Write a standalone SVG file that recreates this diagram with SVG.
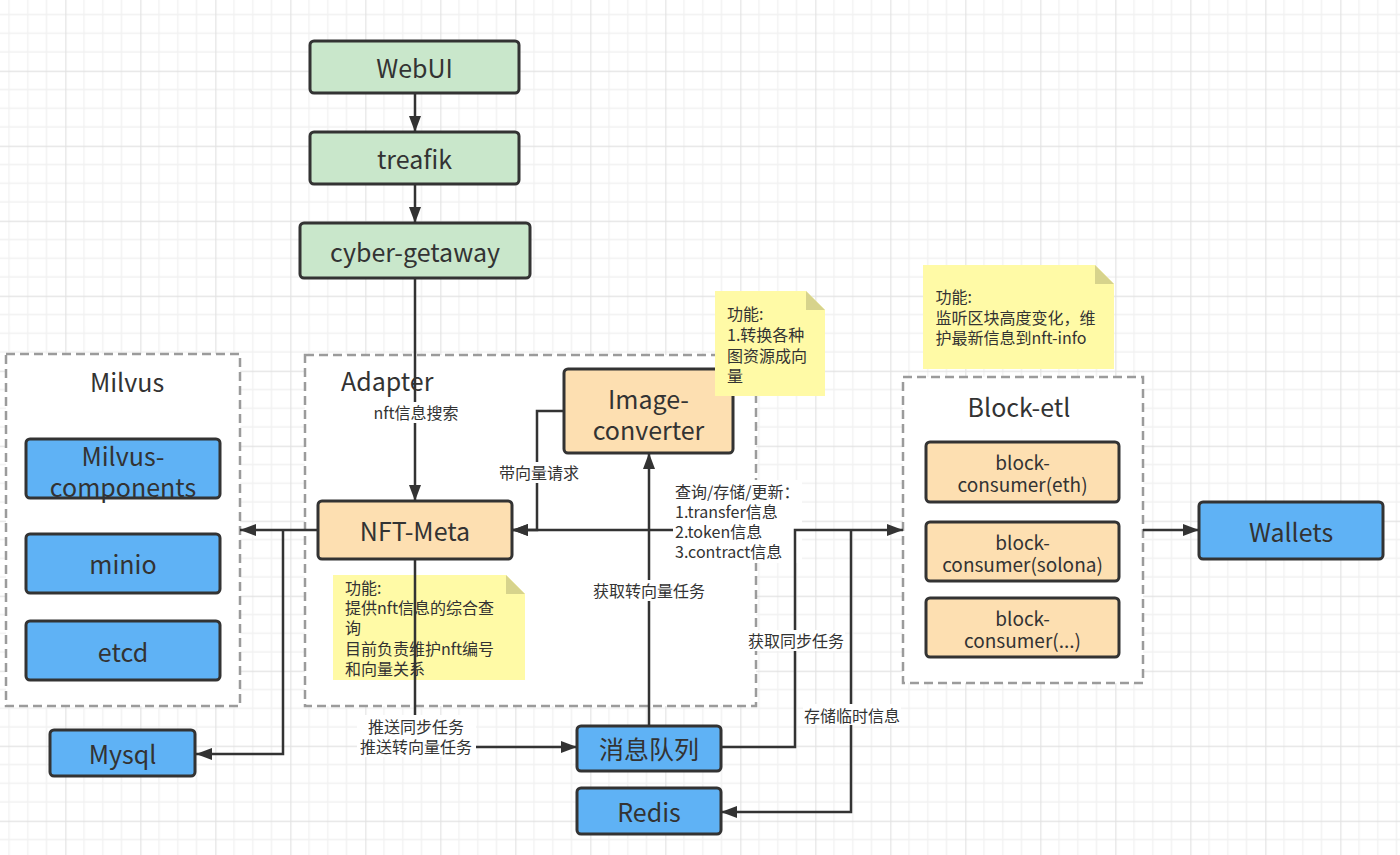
<svg xmlns="http://www.w3.org/2000/svg" width="1400" height="855" viewBox="0 0 1400 855">
<style>
text{font-family:"Noto Sans CJK SC","Noto Sans",sans-serif;fill:#333;}
.node{stroke:#333;stroke-width:3;}
.green{fill:#c9e7cb;}
.orange{fill:#fddfb1;}
.blue{fill:#5fb2f5;}
.box{fill:#fff;stroke:#9b9b9b;stroke-width:2.5;stroke-dasharray:9 5;}
.lbl{font-size:25px;text-anchor:middle;dominant-baseline:central;}
.sm{font-size:19px;text-anchor:middle;dominant-baseline:central;}
.el{font-size:16px;text-anchor:middle;dominant-baseline:central;}
.nt{font-size:16px;dominant-baseline:central;}
.note{fill:#fffaa6;}
.fold{fill:#d7d38c;}
.conn{fill:none;stroke:#333;stroke-width:2.5;}
.bg{fill:#fff;}
</style>
<defs>
<pattern id="grid" patternUnits="userSpaceOnUse" x="65.3" y="70.7" width="75" height="75">
<path d="M18.75 0V75M37.5 0V75M56.25 0V75M0 18.75H75M0 37.5H75M0 56.25H75" stroke="#f1f1f1" stroke-width="1.3" fill="none"/>
<path d="M0.5 0V75M0 0.5H75" stroke="#e2e2e2" stroke-width="1.3" fill="none"/>
</pattern>
<marker id="arr" markerUnits="userSpaceOnUse" markerWidth="16" markerHeight="12" refX="16" refY="6" orient="auto">
<path d="M0,0 L16,6 L0,12 z" fill="#333"/>
</marker>
</defs>
<rect width="1400" height="855" fill="#fff"/>
<rect width="1400" height="855" fill="url(#grid)"/>

<g id="milvus-group">
<rect class="box" x="6" y="354" width="234" height="352"/>
<text class="lbl" x="127" y="381">Milvus</text>
</g>
<g id="adapter-group">
<rect class="box" x="305" y="355" width="451" height="351"/>
<text class="lbl" x="341" y="380" style="text-anchor:start">Adapter</text>
</g>
<g id="blocketl-group">
<rect class="box" x="903" y="377" width="240" height="306"/>
<text class="lbl" x="1019" y="406">Block-etl</text>
</g>

<g id="webui"><rect class="node green" x="310" y="41" width="209" height="52" rx="4"/><text class="lbl" x="414.5" y="67">WebUI</text></g>
<g id="treafik"><rect class="node green" x="310" y="132" width="209" height="52" rx="4"/><text class="lbl" x="414.5" y="158">treafik</text></g>
<g id="cyber-getaway"><rect class="node green" x="300" y="223" width="230" height="55" rx="4"/><text class="lbl" x="415" y="250.5">cyber-getaway</text></g>

<g id="milvus-components"><rect class="node blue" x="26" y="439" width="194" height="59" rx="4"/><text class="lbl" x="123" y="455">Milvus-</text><text class="lbl" x="123" y="486">components</text></g>
<g id="minio"><rect class="node blue" x="26" y="534" width="194" height="59" rx="4"/><text class="lbl" x="123" y="563">minio</text></g>
<g id="etcd"><rect class="node blue" x="26" y="621" width="194" height="59" rx="4"/><text class="lbl" x="123" y="651">etcd</text></g>
<g id="mysql"><rect class="node blue" x="50" y="730" width="145" height="46" rx="4"/><text class="lbl" x="122.5" y="753">Mysql</text></g>

<g id="nft-meta"><rect class="node orange" x="318" y="501" width="194" height="58" rx="4"/><text class="lbl" x="415" y="530">NFT-Meta</text></g>
<g id="image-converter"><rect class="node orange" x="564" y="369" width="169" height="84" rx="4"/><text class="lbl" x="648.5" y="398">Image-</text><text class="lbl" x="648.5" y="429">converter</text></g>

<g id="mq"><rect class="node blue" x="577" y="726" width="144" height="45" rx="4"/><text class="lbl" x="649" y="748">消息队列</text></g>
<g id="redis"><rect class="node blue" x="577" y="788" width="144" height="46" rx="4"/><text class="lbl" x="649" y="811">Redis</text></g>

<g id="bc-eth"><rect class="node orange" x="926" y="442" width="193" height="60" rx="4"/><text class="sm" x="1022.5" y="461">block-</text><text class="sm" x="1022.5" y="483">consumer(eth)</text></g>
<g id="bc-solona"><rect class="node orange" x="926" y="522" width="193" height="59" rx="4"/><text class="sm" x="1022.5" y="541">block-</text><text class="sm" x="1022.5" y="563">consumer(solona)</text></g>
<g id="bc-more"><rect class="node orange" x="926" y="598" width="193" height="59" rx="4"/><text class="sm" x="1022.5" y="617">block-</text><text class="sm" x="1022.5" y="639">consumer(...)</text></g>
<g id="wallets"><rect class="node blue" x="1199" y="502" width="184" height="57" rx="4"/><text class="lbl" x="1291" y="531">Wallets</text></g>

<g id="note-image">
<path class="note" d="M715 291H806L825 310V396H715Z"/>
<path class="fold" d="M806 291L825 310H806Z"/>
<text class="nt" x="727" y="313">功能:</text>
<text class="nt" x="727" y="334">1.转换各种</text>
<text class="nt" x="727" y="355">图资源成向</text>
<text class="nt" x="727" y="375">量</text>
</g>
<g id="note-nft">
<path class="note" d="M333 575H506L525 594V680H333Z"/>
<path class="fold" d="M506 575L525 594H506Z"/>
<text class="nt" x="345" y="587">功能:</text>
<text class="nt" x="345" y="607">提供nft信息的综合查</text>
<text class="nt" x="345" y="627">询</text>
<text class="nt" x="345" y="648">目前负责维护nft编号</text>
<text class="nt" x="345" y="668">和向量关系</text>
</g>
<g id="note-block">
<path class="note" d="M923 265H1095L1114 284V369H923Z"/>
<path class="fold" d="M1095 265L1114 284H1095Z"/>
<text class="nt" x="935.5" y="296">功能:</text>
<text class="nt" x="935.5" y="317">监听区块高度变化，维</text>
<text class="nt" x="935.5" y="337">护最新信息到nft-info</text>
</g>

<g id="connectors">
<path class="conn" d="M415 93V132" marker-end="url(#arr)"/>
<path class="conn" d="M415 184V223" marker-end="url(#arr)"/>
<path class="conn" d="M415 278V501" marker-end="url(#arr)"/>
<path class="conn" d="M318 530H240" marker-end="url(#arr)"/>
<path class="conn" d="M283 530V754H196" marker-end="url(#arr)"/>
<path class="conn" d="M415 559V747H577" marker-end="url(#arr)"/>
<path class="conn" d="M564 411H537V530H512" marker-end="url(#arr)"/>
<path class="conn" d="M795 530H512" marker-end="url(#arr)"/>
<path class="conn" d="M649 726V453" marker-end="url(#arr)"/>
</g>

<g id="edge-labels">
<rect class="bg" x="371" y="402" width="90" height="21"/>
<text class="el" x="416" y="412">nft信息搜索</text>
<rect class="bg" x="497" y="462" width="84" height="21"/>
<text class="el" x="539" y="472">带向量请求</text>
<rect class="bg" x="357" y="715" width="119" height="42"/>
<text class="el" x="416" y="726">推送同步任务</text>
<text class="el" x="416" y="746">推送转向量任务</text>
<rect class="bg" x="590" y="580" width="118" height="21"/>
<text class="el" x="649" y="590">获取转向量任务</text>
<rect class="bg" x="673" y="480" width="129" height="83"/>
<text class="nt" x="675" y="491">查询/存储/更新：</text>
<text class="nt" x="675" y="511">1.transfer信息</text>
<text class="nt" x="675" y="531">2.token信息</text>
<text class="nt" x="675" y="551">3.contract信息</text>
</g>

<g id="connectors-right">
<path class="conn" d="M721 747H795V530H903" marker-end="url(#arr)"/>
<path class="conn" d="M851 530V812H721" marker-end="url(#arr)"/>
<path class="conn" d="M1143 530H1199" marker-end="url(#arr)"/>
</g>
<g id="edge-labels-right">
<rect class="bg" x="747" y="630" width="98" height="21"/>
<text class="el" x="796" y="640">获取同步任务</text>
<rect class="bg" x="803" y="704" width="98" height="21"/>
<text class="el" x="852" y="715">存储临时信息</text>
</g>
</svg>
